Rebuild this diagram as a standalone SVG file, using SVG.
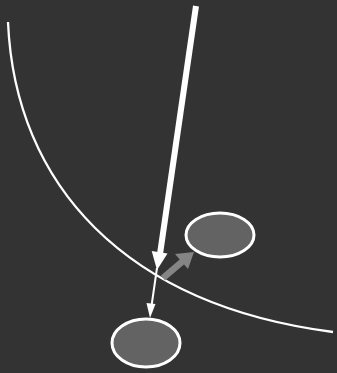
<svg xmlns="http://www.w3.org/2000/svg" width="337" height="373" viewBox="0 0 337 373">
<style>
.node{fill:#636363;stroke:#ffffff;stroke-width:3}
.curve{fill:none;stroke:#ffffff;stroke-width:2.3}
.w{fill:#ffffff}
.g{fill:#858585}
</style>
<rect width="337" height="373" fill="#333333"/>
<path class="curve" d="M 8 22 C 15 185, 125 305, 333 332"/>
<g id="connectors">
<line x1="196" y1="6" x2="160" y2="254" stroke="#ffffff" stroke-width="6"/>
<polygon class="w" points="157,270 167.5,253.4 151.7,251"/>
<line x1="157" y1="268" x2="151.5" y2="306" stroke="#ffffff" stroke-width="2"/>
<polygon class="w" points="150,318 155.5,304 146.5,303"/>
<line x1="163" y1="278" x2="183" y2="261" stroke="#858585" stroke-width="6.5"/>
<polygon class="g" points="194,252 188,269 175,254"/>
</g>
<g id="node1"><ellipse class="node" cx="220" cy="235" rx="34" ry="22"/></g>
<g id="node2"><ellipse class="node" cx="146" cy="343" rx="34" ry="24"/></g>
</svg>
